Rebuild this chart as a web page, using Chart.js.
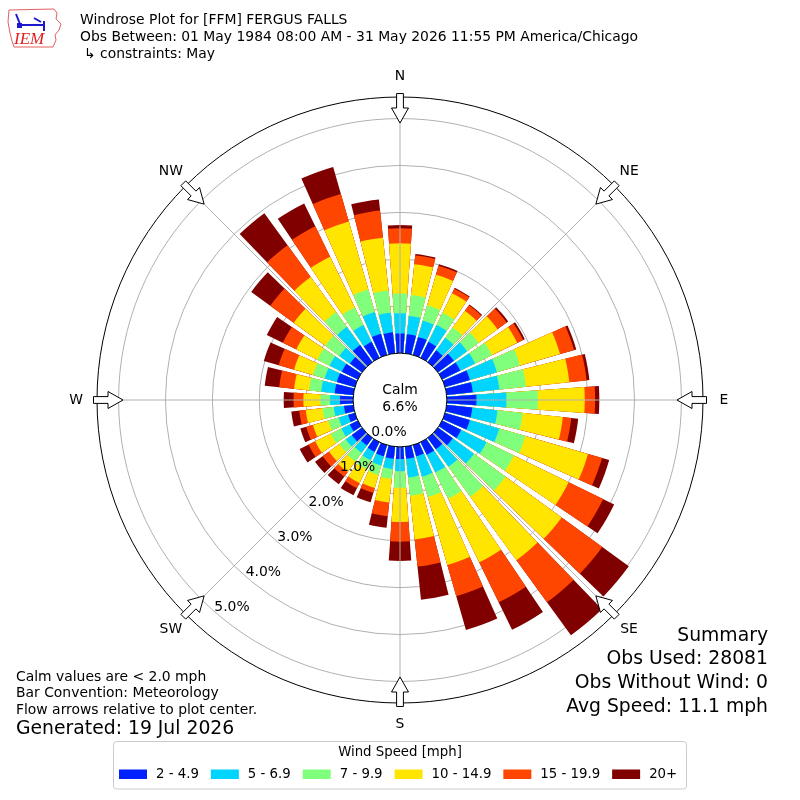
<!DOCTYPE html>
<html>
<head>
<meta charset="utf-8">
<title>Windrose Plot for [FFM] FERGUS FALLS</title>
<script src="https://cdn.jsdelivr.net/npm/chart.js@4.4.1/dist/chart.umd.min.js"></script>
<style>
  html, body { margin: 0; padding: 0; background: #ffffff; }
  #wrap { width: 800px; height: 800px; }
</style>
</head>
<body>
<div id="wrap"><canvas id="windrose" width="800" height="800"></canvas></div>
<script>
// Hướng gió (độ, quy ước khí tượng: hướng gió thổi đến từ)
const directions = [0, 10, 20, 30, 40, 50, 60, 70, 80, 90, 100, 110, 120, 130, 140, 150, 160, 170,
                    180, 190, 200, 210, 220, 230, 240, 250, 260, 270, 280, 290, 300, 310, 320, 330, 340, 350];

// Tần suất (%) theo từng khoảng tốc độ, mỗi mảng 36 giá trị theo thứ tự directions
const speed2to5 = [0.42, 0.41, 0.40, 0.38, 0.31, 0.42, 0.43, 0.55, 0.56, 0.63, 0.55, 0.55, 0.45, 0.39, 0.30, 0.30, 0.25, 0.26,
                   0.26, 0.26, 0.25, 0.23, 0.20, 0.27, 0.19, 0.15, 0.20, 0.28, 0.40, 0.40, 0.38, 0.32, 0.45, 0.38, 0.47, 0.45];
const speed5to7 = [0.43, 0.39, 0.36, 0.40, 0.33, 0.35, 0.35, 0.60, 0.57, 0.64, 0.54, 0.65, 0.60, 0.56, 0.46, 0.42, 0.45, 0.40,
                   0.26, 0.22, 0.20, 0.20, 0.19, 0.16, 0.20, 0.21, 0.22, 0.21, 0.29, 0.27, 0.29, 0.28, 0.48, 0.40, 0.48, 0.42];
const speed7to10 = [0.42, 0.45, 0.34, 0.29, 0.27, 0.30, 0.40, 0.51, 0.57, 0.67, 0.54, 0.58, 0.65, 0.83, 0.79, 0.62, 0.45, 0.39,
                    0.35, 0.21, 0.21, 0.21, 0.23, 0.17, 0.25, 0.23, 0.24, 0.21, 0.26, 0.26, 0.29, 0.37, 0.39, 0.42, 0.50, 0.48];
const speed10to15 = [1.07, 0.66, 0.68, 0.46, 0.44, 0.50, 0.60, 0.89, 0.93, 1.00, 0.86, 1.39, 1.30, 1.48, 1.67, 1.51, 1.51, 0.94,
                     0.73, 0.51, 0.29, 0.33, 0.28, 0.27, 0.37, 0.34, 0.36, 0.36, 0.32, 0.42, 0.50, 0.83, 0.92, 1.20, 1.51, 1.13];
const speed15to20 = [0.32, 0.19, 0.20, 0.11, 0.15, 0.24, 0.14, 0.31, 0.37, 0.22, 0.18, 0.31, 0.82, 1.07, 1.11, 0.95, 0.69, 0.58,
                     0.42, 0.29, 0.11, 0.12, 0.12, 0.17, 0.16, 0.15, 0.14, 0.21, 0.32, 0.34, 0.32, 0.62, 0.84, 0.72, 0.61, 0.58];
const speed20plus = [0.07, 0.03, 0.03, 0.02, 0.02, 0.04, 0.04, 0.05, 0.06, 0.09, 0.15, 0.16, 0.26, 0.70, 0.87, 0.65, 0.75, 0.71,
                     0.41, 0.25, 0.21, 0.17, 0.20, 0.20, 0.21, 0.13, 0.17, 0.21, 0.31, 0.33, 0.38, 0.50, 0.84, 0.54, 0.60, 0.24];

const speedLabels = ['2 - 4.9', '5 - 6.9', '7 - 9.9', '10 - 14.9', '15 - 19.9', '20+'];
const speedColors = ['#0020ff', '#00d4ff', '#80ff7c', '#ffe500', '#ff4600', '#800000'];
const ringTicks = [0, 1, 2, 3, 4, 5];
const compassNames = ['N', 'NE', 'E', 'SE', 'S', 'SW', 'W', 'NW'];
const calmPct = 6.6;
const summaryLines = ['Summary', 'Obs Used: 28081', 'Obs Without Wind: 0', 'Avg Speed: 11.1 mph'];
const noteLines = ['Calm values are < 2.0 mph', 'Bar Convention: Meteorology', 'Flow arrows relative to plot center.'];
const titleLines = ['Windrose Plot for [FFM] FERGUS FALLS',
                    'Obs Between: 01 May 1984 08:00 AM - 31 May 2026 11:55 PM America/Chicago',
                    '\u21b3 constraints: May'];

const FONT = '"DejaVu Sans", "Liberation Sans", sans-serif';
const barWidth = 8;   // độ, mỗi hướng chiếm 10 độ
const gapWidth = 2;

// mỗi hướng = 1 cột + 1 khe trống
const sliceLabels = [];
directions.forEach(d => { sliceLabels.push(d + '\u00b0'); sliceLabels.push(''); });

// cộng dồn các khoảng tốc độ; cột nhỏ hơn vẽ đè lên cột lớn hơn
const series = [speed2to5, speed5to7, speed7to10, speed10to15, speed15to20, speed20plus];
let running = directions.map(() => 0);
const datasets = series.map((vals, s) => {
    running = running.map((v, i) => v + vals[i]);
    const data = [];
    running.forEach(v => { data.push(+v.toFixed(3)); data.push(0); });
    return {
        label: speedLabels[s],
        data: data,
        backgroundColor: c => (c.dataIndex % 2 ? 'rgba(0,0,0,0)' : speedColors[s]),
        borderWidth: 0,
        angle: c => (c.dataIndex % 2 ? gapWidth : barWidth)
    };
});

function polarPoint(scale, deg, dist) {
    const a = deg * Math.PI / 180;
    return { x: scale.xCenter + Math.sin(a) * dist, y: scale.yCenter - Math.cos(a) * dist };
}

// vẽ mũi tên hướng (trỏ vào tâm)
function drawArrow(ctx, scale, deg) {
    const a = deg * Math.PI / 180;
    const pts = [[306.5, -3.4], [306.5, 3.4], [292, 3.4], [292, 8.5], [277, 0], [292, -8.5], [292, -3.4]];
    ctx.beginPath();
    pts.forEach(([s, t], i) => {
        const x = scale.xCenter + Math.sin(a) * s + Math.cos(a) * t;
        const y = scale.yCenter - Math.cos(a) * s + Math.sin(a) * t;
        if (i === 0) ctx.moveTo(x, y); else ctx.lineTo(x, y);
    });
    ctx.closePath();
    ctx.fillStyle = '#ffffff';
    ctx.fill();
    ctx.strokeStyle = '#000000';
    ctx.lineWidth = 1;
    ctx.stroke();
}

function drawLogo(ctx) {
    ctx.save();
    ctx.beginPath();
    const outline = [[9, 10], [54, 9], [57, 13], [56, 19], [61, 24], [59, 30], [55, 35], [56, 40], [53, 47],
                     [14, 47], [12, 41], [10, 33], [8, 22]];
    outline.forEach(([x, y], i) => (i === 0 ? ctx.moveTo(x, y) : ctx.lineTo(x, y)));
    ctx.closePath();
    ctx.strokeStyle = '#e06060';
    ctx.lineWidth = 1;
    ctx.stroke();
    ctx.strokeStyle = '#1a1acc';
    ctx.lineWidth = 2;
    ctx.beginPath();
    ctx.moveTo(18, 25); ctx.lineTo(44, 25);
    ctx.moveTo(44, 21); ctx.lineTo(44, 31);
    ctx.moveTo(16, 14); ctx.lineTo(20, 24);
    ctx.moveTo(34, 18); ctx.lineTo(41, 22);
    ctx.stroke();
    ctx.fillStyle = '#1a1acc';
    ctx.fillRect(17, 23, 5, 5);
    ctx.fillStyle = '#e02020';
    ctx.font = 'italic 17px "Liberation Serif", serif';
    ctx.textAlign = 'left';
    ctx.textBaseline = 'alphabetic';
    ctx.fillText('IEM', 14, 44);
    ctx.restore();
}

const windroseDecor = {
    id: 'windroseDecor',
    afterDatasetsDraw(chart) {
        // vòng tròn "Calm" che phần giữa
        const sc = chart.scales.r, ctx = chart.ctx;
        ctx.save();
        ctx.beginPath();
        ctx.arc(sc.xCenter, sc.yCenter, sc.getDistanceFromCenterForValue(0), 0, Math.PI * 2);
        ctx.fillStyle = '#ffffff';
        ctx.fill();
        ctx.restore();
    },
    afterDraw(chart) {
        const sc = chart.scales.r, ctx = chart.ctx;
        const r0 = sc.getDistanceFromCenterForValue(0);
        const rMax = sc.getDistanceFromCenterForValue(sc.max);
        ctx.save();

        // các tia 45 độ
        ctx.strokeStyle = '#b0b0b0';
        ctx.lineWidth = 1;
        compassNames.forEach((n, i) => {
            const p1 = polarPoint(sc, i * 45, r0), p2 = polarPoint(sc, i * 45, rMax);
            ctx.beginPath(); ctx.moveTo(p1.x, p1.y); ctx.lineTo(p2.x, p2.y); ctx.stroke();
        });

        // viền calm và viền ngoài
        ctx.strokeStyle = '#000000';
        ctx.beginPath(); ctx.arc(sc.xCenter, sc.yCenter, r0, 0, Math.PI * 2); ctx.stroke();
        ctx.beginPath(); ctx.arc(sc.xCenter, sc.yCenter, rMax, 0, Math.PI * 2); ctx.stroke();

        compassNames.forEach((n, i) => drawArrow(ctx, sc, i * 45));

        ctx.fillStyle = '#000000';
        ctx.font = '13.9px ' + FONT;
        ctx.textAlign = 'center';
        ctx.textBaseline = 'middle';
        compassNames.forEach((n, i) => {
            const p = polarPoint(sc, i * 45, rMax + 21);
            ctx.fillText(n, p.x, p.y);
        });

        ctx.fillText('Calm', sc.xCenter, sc.yCenter - 10);
        ctx.fillText(calmPct.toFixed(1) + '%', sc.xCenter, sc.yCenter + 7);

        // nhãn phần trăm của các vòng
        ctx.textAlign = 'left';
        ringTicks.forEach(v => {
            const p = polarPoint(sc, 222, sc.getDistanceFromCenterForValue(v) - 4);
            ctx.fillText(v.toFixed(1) + '%', p.x, p.y + 1);
        });

        // tiêu đề
        titleLines.forEach((t, i) => ctx.fillText(t, i === 2 ? 84 : 80, 20 + i * 17));

        // ghi chú dưới trái
        noteLines.forEach((t, i) => ctx.fillText(t, 16, 677 + i * 16.5));
        ctx.font = '18.8px ' + FONT;
        ctx.fillText('Generated: 19 Jul 2026', 16, 729);

        // tóm tắt dưới phải
        ctx.textAlign = 'right';
        summaryLines.forEach((t, i) => ctx.fillText(t, 768, 636 + i * 23.6));

        // chú giải
        ctx.beginPath();
        ctx.roundRect(113.5, 741.5, 573, 47.5, 3);
        ctx.fillStyle = '#ffffff';
        ctx.fill();
        ctx.strokeStyle = '#cccccc';
        ctx.stroke();
        ctx.fillStyle = '#000000';
        ctx.font = '13.3px ' + FONT;
        ctx.textAlign = 'center';
        ctx.fillText('Wind Speed [mph]', 400, 753);
        ctx.textAlign = 'left';
        let x = 119;
        speedLabels.forEach((lab, i) => {
            ctx.fillStyle = speedColors[i];
            ctx.fillRect(x, 769.5, 28, 9.5);
            ctx.fillStyle = '#000000';
            ctx.fillText(lab, x + 37, 774.5);
            x += 37 + ctx.measureText(lab).width + 12;
        });

        drawLogo(ctx);
        ctx.restore();
    }
};

const canvasElement = document.getElementById('windrose');
new Chart(canvasElement.getContext('2d'), {
    type: 'polarArea',
    data: { labels: sliceLabels, datasets: datasets },
    options: {
        responsive: false,
        animation: false,
        events: [],
        layout: { padding: { left: 97, right: 97, top: 97, bottom: 97 } },
        plugins: { legend: { display: false }, tooltip: { enabled: false } },
        scales: {
            r: {
                min: -1,
                max: 5.46,
                startAngle: -barWidth / 2,
                ticks: { display: false },
                afterBuildTicks: s => { s.ticks = ringTicks.map(v => ({ value: v })); },
                grid: {
                    circular: true,
                    lineWidth: 1,
                    color: c => (c.tick && c.tick.value === 0 ? 'rgba(0,0,0,0)' : '#b0b0b0')
                },
                angleLines: { display: false },
                pointLabels: { display: false },
                z: 1
            }
        }
    },
    plugins: [windroseDecor]
});
</script>
</body>
</html>
